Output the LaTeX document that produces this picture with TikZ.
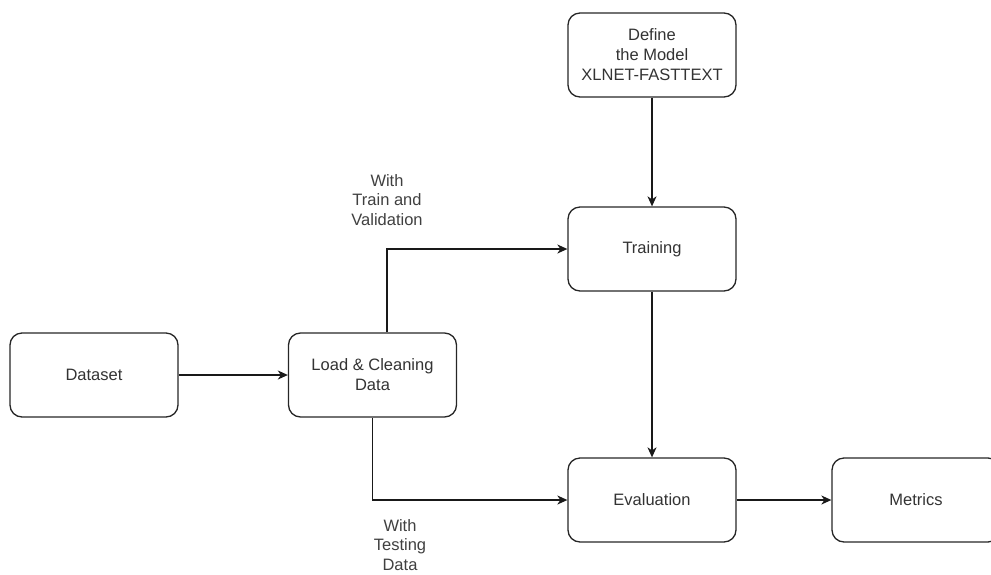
\documentclass[tikz,border=0pt]{standalone}
\usepackage{fontspec}
\setmainfont{Liberation Sans}
\usetikzlibrary{arrows.meta}
\begin{document}
\begin{tikzpicture}[x=1pt,y=-1pt,
  box/.style={draw=black!85, rounded corners=12pt, minimum width=168pt, minimum height=84pt,
    line width=1.3pt, align=center, font=\fontsize{16.5}{20}\selectfont, text=black!80, inner sep=0pt},
  conn/.style={draw=black!90, line width=1.3pt, -{Stealth[length=10pt,width=9pt,inset=3pt]}},
  lbl/.style={align=center, font=\fontsize{16.5}{19.5}\selectfont, text=black!75, inner sep=0pt}]
\useasboundingbox (0,0) rectangle (991,574);
\node[box] (dataset) at (94,375) {Dataset};
\node[box] (load) at (372.5,375) {Load \& Cleaning\\Data};
\node[box] (define) at (652,55) {Define\\the Model\\XLNET-FASTTEXT};
\node[box] (train) at (652,249) {Training};
\node[box] (eval) at (652,500) {Evaluation};
\begin{scope}
\clip (0,0) rectangle (991,574);
\node[box] (metrics) at (916,500) {Metrics};
\end{scope}
\draw[conn] (dataset) -- (load);
\draw[conn] (define) -- (train);
\draw[conn] (train) -- (eval);
\draw[conn] (eval) -- (metrics);
\draw[conn] ([xshift=14.5pt]load.north) |- (train.west);
\draw[conn] (load.south) |- (eval.west);
\node[lbl] (lbltrain) at (387,200) {With\\Train and\\Validation};
\node[lbl] (lbltest) at (400,545) {With\\Testing\\Data};
\end{tikzpicture}
\end{document}
